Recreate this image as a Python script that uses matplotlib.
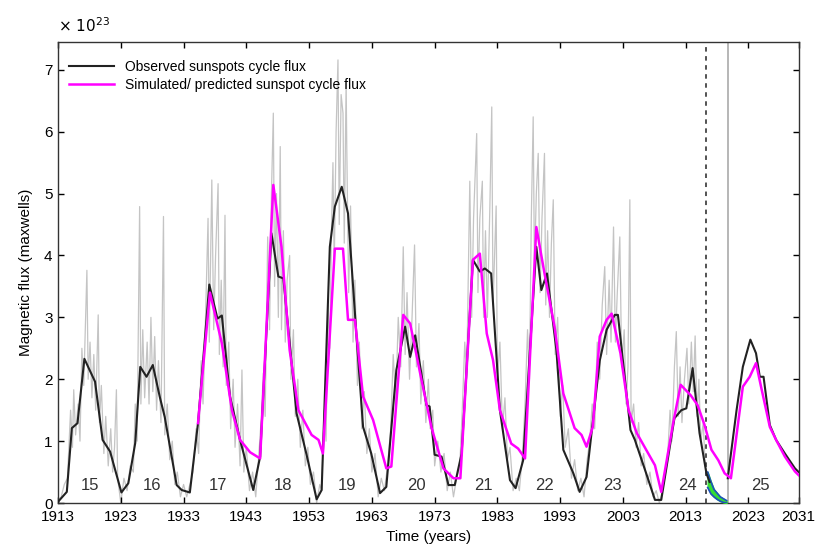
""" Flujo magnetico de los ciclos solares: observado y simulado/predicho """

import matplotlib
matplotlib.use("Agg")
import matplotlib.pyplot as plt

plt.rcParams['font.family'] = ['Liberation Sans', 'DejaVu Sans']

# curva observada (suavizada), unidades de 1e23 Mx
obs_years = [1913.0, 1914.4, 1915.2, 1916.1, 1917.2, 1918.9, 1920.1, 1921.3, 1923.1, 1924.2,
             1925.3, 1926.1, 1927.1, 1928.1, 1929.2, 1930.0, 1931.9, 1932.7, 1934.0, 1935.3,
             1937.1, 1938.4, 1939.1, 1940.4, 1942.0, 1944.1, 1945.2, 1947.0, 1948.1, 1948.9,
             1951.0, 1952.6, 1954.2, 1955.0, 1956.3, 1957.1, 1958.2, 1959.2, 1960.6, 1961.6,
             1962.9, 1964.3, 1965.3, 1966.9, 1968.3, 1969.1, 1969.9, 1971.7, 1972.2, 1973.0,
             1974.1, 1975.2, 1976.2, 1977.3, 1979.1, 1980.2, 1981.0, 1982.0, 1983.4, 1985.0,
             1985.9, 1987.1, 1989.2, 1990.0, 1990.9, 1992.4, 1993.5, 1995.1, 1996.1, 1997.2,
             1999.3, 2000.4, 2001.7, 2002.2, 2004.2, 2004.9, 2006.7, 2008.1, 2009.1, 2011.2,
             2012.3, 2013.1, 2014.1, 2015.2, 2016.3, 2016.8]
obs_flux = [0.02, 0.18, 1.21, 1.29, 2.33, 1.96, 1.02, 0.83, 0.17, 0.32,
            0.97, 2.20, 2.04, 2.23, 1.72, 1.39, 0.29, 0.21, 0.17, 1.29,
            3.53, 2.98, 3.03, 1.72, 1.02, 0.21, 0.75, 4.36, 3.66, 3.63,
            1.45, 0.78, 0.06, 0.21, 4.14, 4.79, 5.11, 4.68, 2.63, 1.23,
            0.80, 0.16, 0.26, 2.15, 2.85, 2.36, 2.71, 1.58, 1.56, 0.78,
            0.75, 0.29, 0.29, 0.80, 3.93, 3.74, 3.79, 3.71, 1.50, 0.37,
            0.24, 0.69, 4.14, 3.44, 3.71, 2.47, 0.86, 0.48, 0.18, 0.42,
            2.30, 2.80, 3.04, 3.04, 1.18, 1.02, 0.48, 0.05, 0.05, 1.37,
            1.50, 1.53, 2.18, 1.13, 0.48, 0.34]

# ciclo 25 (curva negra)
c25_years = [2019.7, 2021.1, 2022.1, 2023.3, 2024.2, 2024.8, 2025.4, 2026.4, 2027.4, 2028.8,
             2030.4, 2031.0]
c25_flux = [0.40, 1.50, 2.20, 2.64, 2.42, 2.04, 2.04, 1.26, 1.02, 0.80, 0.56, 0.50]

# simulado / predicho
sim_years = [1935.3, 1937.2, 1939.1, 1940.7, 1942.0, 1943.6, 1945.2, 1947.3, 1948.6, 1949.9,
             1951.3, 1953.4, 1954.5, 1955.2, 1957.1, 1958.4, 1959.2, 1960.3, 1961.6, 1963.2,
             1965.3, 1966.1, 1968.0, 1969.1, 1970.9, 1972.5, 1974.4, 1976.0, 1977.1, 1979.1,
             1980.2, 1981.3, 1982.3, 1983.4, 1985.2, 1986.3, 1987.4, 1989.2, 1990.5, 1992.1,
             1993.5, 1995.3, 1996.4, 1997.2, 1998.2, 1999.3, 2000.4, 2001.2, 2002.6, 2003.9,
             2005.2, 2006.7, 2008.1, 2009.1, 2011.0, 2012.2, 2013.8, 2014.9, 2016.0, 2017.1,
             2018.2, 2019.2, 2020.2, 2022.1, 2023.2, 2024.2, 2025.0, 2026.4, 2027.4, 2028.8,
             2030.4, 2031.0]
sim_flux = [1.29, 3.40, 2.58, 1.50, 1.02, 0.82, 0.72, 5.14, 4.14, 2.47,
            1.50, 1.10, 1.02, 0.80, 4.11, 4.11, 2.96, 2.96, 1.72, 1.34,
            0.56, 0.59, 3.04, 2.90, 1.99, 1.22, 0.56, 0.40, 0.40, 3.93,
            4.03, 2.74, 2.31, 1.50, 0.96, 0.88, 0.72, 4.46, 3.71, 2.85,
            1.77, 1.21, 1.10, 0.91, 1.23, 2.69, 2.96, 3.06, 2.42, 1.50,
            1.13, 0.86, 0.61, 0.18, 1.29, 1.91, 1.74, 1.58, 1.26, 0.86,
            0.69, 0.48, 0.40, 1.88, 2.04, 2.26, 1.88, 1.23, 1.02, 0.75,
            0.51, 0.45]

# flujo mensual (gris), leido a ojo
gray_years = [1913.0, 1913.5, 1914.0, 1914.5, 1915.0, 1915.3, 1915.5, 1915.8, 1916.2, 1916.5,
              1916.8, 1917.1, 1917.4, 1917.6, 1917.8, 1918.1, 1918.4, 1918.7, 1919.0, 1919.4,
              1919.6, 1919.9, 1920.3, 1920.6, 1921.0, 1921.4, 1921.7, 1922.0, 1922.3, 1922.5,
              1923.0, 1923.5, 1924.0, 1924.5, 1925.0, 1925.3, 1925.6, 1926.0, 1926.2, 1926.5,
              1926.8, 1927.2, 1927.5, 1927.8, 1928.1, 1928.4, 1928.7, 1929.0, 1929.4, 1929.8,
              1930.0, 1930.4, 1930.8, 1931.2, 1931.6, 1932.0, 1932.5, 1933.0, 1933.5, 1934.0,
              1934.5, 1935.0, 1935.4, 1935.8, 1936.1, 1936.5, 1936.9, 1937.1, 1937.5, 1937.8,
              1938.1, 1938.5, 1938.7, 1939.0, 1939.3, 1939.6, 1939.8, 1940.2, 1940.5, 1940.9,
              1941.2, 1941.6, 1942.0, 1942.3, 1942.6, 1943.0, 1943.5, 1944.0, 1944.5, 1945.0,
              1945.4, 1945.7, 1946.0, 1946.4, 1946.7, 1947.0, 1947.3, 1947.5, 1947.8, 1948.1,
              1948.4, 1948.6, 1948.9, 1949.2, 1949.5, 1949.9, 1950.1, 1950.5, 1950.8, 1951.2,
              1951.6, 1952.0, 1952.4, 1952.8, 1953.2, 1953.7, 1954.2, 1954.7, 1955.0, 1955.4,
              1955.7, 1956.0, 1956.3, 1956.6, 1956.8, 1957.0, 1957.3, 1957.6, 1957.8, 1958.1,
              1958.4, 1958.6, 1958.9, 1959.0, 1959.3, 1959.6, 1960.0, 1960.3, 1960.7, 1961.0,
              1961.4, 1961.8, 1962.2, 1962.6, 1963.0, 1963.5, 1964.0, 1964.5, 1965.0, 1965.5,
              1966.0, 1966.4, 1966.8, 1967.2, 1967.6, 1968.0, 1968.3, 1968.6, 1969.0, 1969.4,
              1969.8, 1970.1, 1970.5, 1970.8, 1971.2, 1971.6, 1972.0, 1972.3, 1972.7, 1973.0,
              1973.5, 1974.0, 1974.5, 1975.0, 1975.5, 1976.0, 1976.5, 1977.0, 1977.4, 1977.8,
              1978.1, 1978.6, 1978.9, 1979.2, 1979.7, 1979.9, 1980.2, 1980.6, 1980.8, 1981.1,
              1981.4, 1981.8, 1982.1, 1982.3, 1982.8, 1983.0, 1983.4, 1983.8, 1984.2, 1984.6,
              1985.0, 1985.5, 1986.0, 1986.5, 1987.0, 1987.4, 1987.8, 1988.1, 1988.4, 1988.7,
              1988.9, 1989.2, 1989.5, 1989.8, 1990.1, 1990.5, 1990.7, 1991.0, 1991.3, 1991.6,
              1991.9, 1992.2, 1992.6, 1993.0, 1993.4, 1993.8, 1994.3, 1994.8, 1995.3, 1995.8,
              1996.3, 1996.8, 1997.3, 1997.7, 1998.1, 1998.5, 1998.9, 1999.3, 1999.7, 2000.1,
              2000.4, 2000.8, 2001.1, 2001.5, 2001.8, 2002.1, 2002.5, 2002.8, 2003.2, 2003.5,
              2003.8, 2004.1, 2004.3, 2004.7, 2005.1, 2005.5, 2005.9, 2006.3, 2006.8, 2007.3,
              2007.8, 2008.3, 2008.8, 2009.3, 2009.8, 2010.2, 2010.5, 2010.8, 2011.2, 2011.5,
              2011.8, 2012.1, 2012.4, 2012.8, 2013.2, 2013.5, 2013.9, 2014.2, 2014.5, 2014.8,
              2015.1, 2015.4, 2015.8, 2016.1, 2016.4]
gray_flux = [0.0, 0.1, 0.3, 0.4, 1.5, 0.9, 1.83, 1.1, 1.6, 1.0,
             2.5, 1.9, 3.0, 3.76, 2.0, 2.6, 1.7, 2.4, 1.5, 3.04,
             1.3, 1.9, 0.8, 1.4, 0.6, 1.2, 0.5, 0.9, 1.83, 0.4,
             0.0, 0.4, 0.2, 0.6, 0.5, 1.6, 1.0, 4.79, 1.6, 2.8,
             1.7, 2.6, 1.6, 3.0, 1.8, 2.69, 1.5, 2.3, 1.3, 4.63,
             1.1, 1.6, 0.7, 1.0, 0.3, 0.5, 0.1, 0.3, 0.1, 0.3,
             0.5, 1.2, 0.8, 2.3, 1.6, 3.0, 4.6, 2.6, 5.22, 2.8,
             4.0, 5.16, 2.4, 3.6, 2.2, 4.65, 1.9, 2.6, 1.2, 2.0,
             0.9, 1.6, 0.6, 2.15, 0.5, 0.9, 0.2, 0.5, 0.1, 0.8,
             1.4, 2.1, 1.4, 4.3, 2.8, 5.0, 6.3, 3.5, 5.0, 3.0,
             5.76, 2.8, 4.4, 2.6, 3.6, 4.0, 2.0, 2.8, 1.4, 2.0,
             0.9, 1.5, 0.6, 0.9, 0.3, 0.5, 0.0, 0.3, 0.2, 1.5,
             1.0, 3.2, 2.5, 4.6, 5.5, 3.8, 6.0, 7.16, 4.5, 6.6,
             6.3, 4.2, 6.8, 5.76, 3.4, 4.8, 2.6, 3.6, 1.9, 2.6,
             1.2, 1.8, 0.8, 1.2, 0.5, 0.8, 0.1, 0.4, 0.2, 0.6,
             1.2, 2.4, 1.6, 3.0, 2.2, 4.14, 2.4, 3.4, 2.0, 3.0,
             4.17, 2.2, 2.9, 1.6, 2.3, 1.3, 2.0, 1.2, 1.5, 0.6,
             1.0, 0.5, 0.8, 0.2, 0.5, 0.1, 0.4, 0.6, 1.5, 2.6,
             2.0, 5.2, 3.0, 4.6, 5.97, 3.4, 4.6, 5.2, 3.0, 4.4,
             3.0, 4.8, 6.4, 3.2, 4.8, 2.0, 2.6, 1.2, 1.7, 0.7,
             0.9, 0.2, 0.4, 0.2, 0.8, 1.6, 2.8, 2.0, 4.6, 6.24,
             3.8, 5.0, 5.65, 3.4, 4.6, 5.65, 3.2, 4.4, 3.0, 4.2,
             4.9, 2.4, 3.0, 1.4, 1.9, 0.9, 1.2, 0.4, 0.7, 0.2,
             0.4, 0.1, 0.7, 1.0, 1.6, 1.2, 2.6, 2.0, 3.2, 3.82,
             2.4, 3.6, 2.6, 4.46, 2.6, 3.4, 4.3, 2.2, 2.8, 1.6,
             2.2, 4.9, 1.3, 1.6, 0.9, 1.3, 0.6, 0.8, 0.3, 0.5,
             0.1, 0.2, 0.0, 0.2, 0.5, 0.9, 1.5, 1.0, 2.2, 2.77,
             1.4, 2.2, 1.3, 2.0, 2.5, 1.6, 2.6, 1.8, 2.7, 1.4,
             2.0, 1.0, 1.3, 0.6, 0.5]

# prediccion de corto plazo (banda verde)
band_years = [2016.5, 2017.0, 2017.5, 2018.0, 2018.5, 2019.0, 2019.5]
band_upper = [0.50, 0.35, 0.22, 0.16, 0.10, 0.07, 0.04]
band_lower = [0.25, 0.15, 0.10, 0.06, 0.03, 0.01, 0.00]

cycle_numbers = ['15', '16', '17', '18', '19', '20', '21', '22', '23', '24', '25']
cycle_x = [1918.1, 1927.9, 1938.5, 1948.8, 1959.0, 1970.1, 1980.8, 1990.5, 2001.4, 2013.2, 2024.9]

x_ticks = [1913, 1923, 1933, 1943, 1953, 1963, 1973, 1983, 1993, 2003, 2013, 2023, 2031]

fig = plt.figure(figsize=(8.15, 5.56), dpi=100)
ax = fig.add_axes([0.0712, 0.0953, 0.9088, 0.8292])

ax.plot(gray_years, gray_flux, color='#c4c4c4', lw=0.9, zorder=1)
ax.fill_between(band_years, band_lower, band_upper, color='#33dd33', zorder=3)
ax.plot(band_years, band_upper, color='#1f4fbf', lw=1.2, zorder=3)
ax.plot(band_years, band_lower, color='#1f4fbf', lw=1.2, zorder=3)

ax.axvline(2016.3, color='#444444', lw=1.3, ls=(0, (2.5, 2.5)), zorder=2)
ax.axvline(2019.8, color='#aaaaaa', lw=1.2, zorder=2)

ax.plot(obs_years, obs_flux, color='#222222', lw=1.5, zorder=4,
        label='Observed sunspots cycle flux')
ax.plot(c25_years, c25_flux, color='#222222', lw=1.5, zorder=4)
ax.plot(sim_years, sim_flux, color='#ff00ff', lw=1.8, zorder=5,
        label='Simulated/ predicted sunspot cycle flux')

for lab, xc in zip(cycle_numbers, cycle_x):
    ax.text(xc, 0.29, lab, ha='center', va='center', fontsize=12, color='#333333', zorder=6)

ax.set_xlim(1913, 2031)
ax.set_ylim(0, 7.45)
ax.set_xticks(x_ticks)
ax.set_yticks(range(0, 8))
ax.tick_params(direction='in', top=True, right=True, labelsize=11, length=4, width=1)
ax.tick_params(axis='x', pad=5)
ax.tick_params(axis='y', pad=4)
for sp in ax.spines.values():
    sp.set_linewidth(1.0)
    sp.set_color('#333333')

ax.set_xlabel('Time (years)', fontsize=11, labelpad=4)
ax.set_ylabel('Magnetic flux (maxwells)', fontsize=11, labelpad=8)
ax.text(0.0, 1.015, r'$\times\ 10^{23}$', transform=ax.transAxes, fontsize=11, ha='left', va='bottom')

ax.legend(loc='upper left', frameon=False, fontsize=10, handlelength=3.2,
          borderaxespad=0.4, labelspacing=0.3, bbox_to_anchor=(0.0, 0.985))

fig.savefig('out.png', dpi=100)
